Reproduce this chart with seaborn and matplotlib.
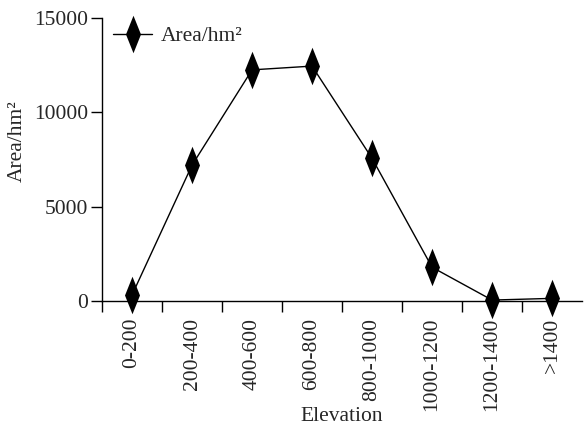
import matplotlib
matplotlib.use("Agg")
import matplotlib.pyplot as plt
import seaborn as sns
import pandas as pd

# Area by elevation band
elevation = ["0-200", "200-400", "400-600", "600-800", "800-1000",
             "1000-1200", "1200-1400", ">1400"]
area = [320, 7200, 12250, 12450, 7560, 1790, 50, 140]

df = pd.DataFrame({"Elevation": elevation, "Area": area})

sns.set_style("ticks")
plt.rcParams["font.family"] = ["Liberation Serif", "DejaVu Serif"]
fs = 15.5

fig = plt.figure(figsize=(5.84, 4.28), dpi=100)
ax = fig.add_axes([0.1747, 0.2967, 0.822, 0.6613])

# tall thin diamond
diamond = [(-0.4, 0), (0, 1), (0.4, 0), (0, -1), (-0.4, 0)]

sns.lineplot(data=df, x="Elevation", y="Area", sort=False, ax=ax,
             color="black", linewidth=1, marker=diamond, markersize=27,
             markeredgewidth=0, label="Area/hm²", clip_on=False)

ax.set_xlim(-0.5, 7.5)
ax.set_ylim(0, 15000)
ax.set_yticks([0, 5000, 10000, 15000])

ax.set_xticks(range(len(elevation)))
ax.set_xticklabels(elevation, rotation=90, fontsize=fs)
ax.set_xticks([i - 0.5 for i in range(len(elevation))], minor=True)
ax.tick_params(axis="x", which="major", length=0, pad=12)
ax.tick_params(axis="x", which="minor", length=8, width=1, color="black", direction="out")
ax.tick_params(axis="y", length=8, width=1, color="black", labelsize=fs, pad=2)

for s in ["top", "right"]:
    ax.spines[s].set_visible(False)
for s in ["left", "bottom"]:
    ax.spines[s].set_color("black")
    ax.spines[s].set_linewidth(1)

ax.set_xlabel("Elevation", fontsize=fs)
ax.xaxis.set_label_coords(0.5, -0.375)
ax.set_ylabel("Area/hm²", fontsize=fs)
ax.yaxis.set_label_coords(-0.156, 0.565)

leg = ax.legend(loc="upper left", frameon=False, fontsize=fs,
                bbox_to_anchor=(-0.017, 1.04), handlelength=1.8, handletextpad=0.4)

fig.savefig("out.png", dpi=100)
